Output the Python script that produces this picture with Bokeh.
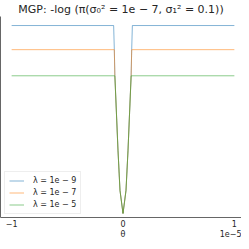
from bokeh.plotting import figure
from bokeh.models import FixedTicker, LinearAxis, Legend, LegendItem, Range1d
from bokeh.embed import file_html
from bokeh.resources import INLINE

# theta in units of 1e-5; y is -log pi in arbitrary (relative) units
theta_blue = [-1.0, -0.084, -0.078, -0.073, -0.059, -0.045, -0.027, 0.0, 0.027, 0.045, 0.059, 0.073, 0.078, 0.084, 1.0]
nlp_blue = [18.7, 18.7, 16.3, 13.7, 10.0, 6.3, 2.3, 0.0, 2.3, 6.3, 10.0, 13.7, 16.3, 18.7, 18.7]

theta_orange = [-1.0, -0.078, -0.073, -0.059, -0.045, -0.027, 0.0, 0.027, 0.045, 0.059, 0.073, 0.078, 1.0]
nlp_orange = [16.3, 16.3, 13.7, 10.0, 6.3, 2.3, 0.0, 2.3, 6.3, 10.0, 13.7, 16.3, 16.3]

theta_green = [-1.0, -0.073, -0.059, -0.045, -0.027, 0.0, 0.027, 0.045, 0.059, 0.073, 1.0]
nlp_green = [13.7, 13.7, 10.0, 6.3, 2.3, 0.0, 2.3, 6.3, 10.0, 13.7, 13.7]

series_labels = ["λ = 1e − 9", "λ = 1e − 7", "λ = 1e − 5"]
series_colors = ["#1f77b4", "#ff7f0e", "#2ca02c"]

tick_values = [-1, 0, 1]
tick_labels = ["−1", "0", "1"]
x_title = "θ"
x_scale_note = "1e−5"

FONT = "DejaVu Sans"

p = figure(width=241, height=241, output_backend="svg", toolbar_location=None,
           x_range=Range1d(-1.1, 1.064), y_range=Range1d(-0.4, 19.6),
           min_border_left=0, min_border_right=0, min_border_top=0, min_border_bottom=0,
           title="MGP: -log (π(σ₀² = 1e − 7, σ₁² = 0.1))")
p.title.text_font = FONT
p.title.text_font_size = "11px"
p.title.text_font_style = "normal"
p.title.text_color = "#262626"
p.title.align = "center"
p.title.standoff = 1
p.outline_line_color = None
p.xgrid.visible = False
p.ygrid.visible = False

renderers = []
for xs, ys, c in [(theta_blue, nlp_blue, series_colors[0]),
                  (theta_orange, nlp_orange, series_colors[1]),
                  (theta_green, nlp_green, series_colors[2])]:
    r = p.line(xs, ys, line_color=c, line_alpha=0.55, line_width=1)
    renderers.append(r)

xa = p.xaxis[0]
xa.ticker = FixedTicker(ticks=tick_values)
xa.major_label_overrides = {v: l for v, l in zip(tick_values, tick_labels)}
xa.major_tick_in = 0
xa.major_tick_out = 0
xa.minor_tick_line_color = None
xa.major_label_standoff = 2
xa.major_label_text_font = FONT
xa.major_label_text_font_size = "8px"
xa.major_label_text_color = "#262626"
xa.axis_line_color = "#666666"
xa.axis_line_width = 1

# second row below the tick labels: axis title (centre) and scale note (right)
xa2 = LinearAxis(ticker=FixedTicker(ticks=[0, 1]),
                 major_label_overrides={0: x_title, 1: x_scale_note})
xa2.axis_line_color = None
xa2.major_tick_in = 0
xa2.major_tick_out = 0
xa2.minor_tick_line_color = None
xa2.major_label_standoff = 0
xa2.major_label_text_font = FONT
xa2.major_label_text_font_size = "8px"
xa2.major_label_text_color = "#262626"
p.add_layout(xa2, "below")

ya = p.yaxis[0]
ya.ticker = FixedTicker(ticks=[])
ya.major_tick_in = 0
ya.major_tick_out = 0
ya.minor_tick_line_color = None
ya.major_label_standoff = 0
ya.axis_line_color = "#666666"
ya.axis_line_width = 1

legend = Legend(items=[LegendItem(label=l, renderers=[r]) for l, r in zip(series_labels, renderers)],
                location=(4, 3))
legend.label_text_font = FONT
legend.label_text_font_size = "8px"
legend.label_text_color = "#262626"
legend.glyph_width = 15
legend.glyph_height = 9
legend.label_height = 9
legend.label_standoff = 9
legend.spacing = 3
legend.padding = 4
legend.margin = 0
legend.border_line_color = "#dddddd"
legend.border_line_width = 1
legend.background_fill_alpha = 0.8
p.add_layout(legend)

open("out.html", "w").write(file_html(p, INLINE))
